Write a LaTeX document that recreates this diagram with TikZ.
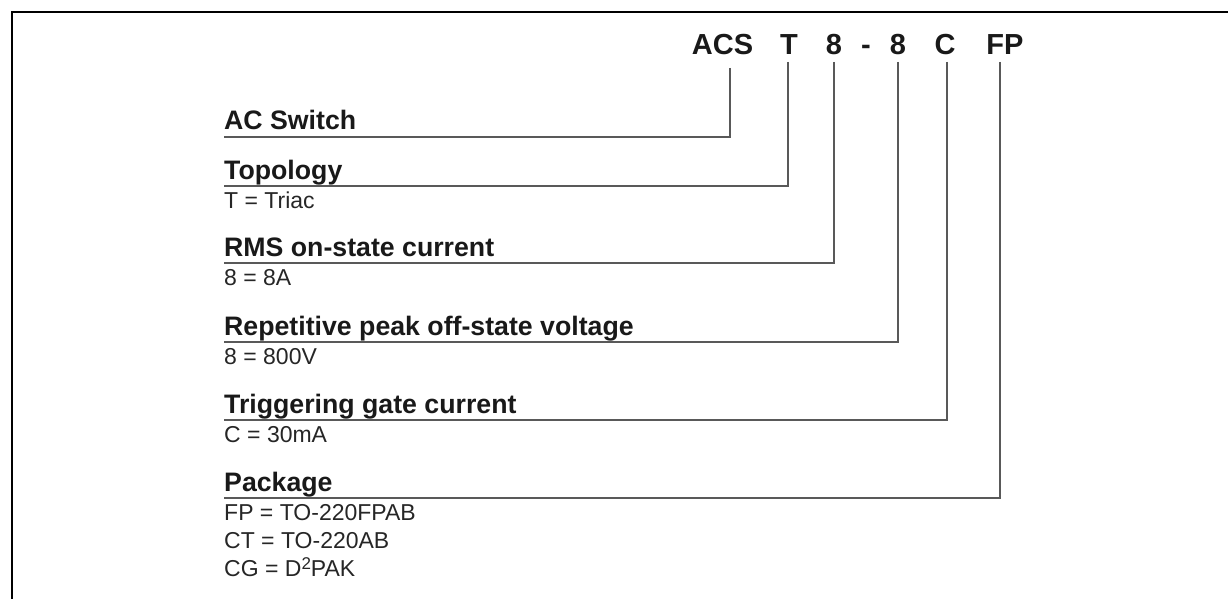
\documentclass[tikz,border=0pt]{standalone}
\usepackage{fontspec}
\setmainfont{Liberation Sans}
\begin{document}
\begin{tikzpicture}[x=1pt,y=-1pt,
  hdr/.style={inner sep=0pt,anchor=base,font=\fontsize{29}{29}\selectfont\bfseries,text=black!90},
  lbl/.style={inner sep=0pt,anchor=base west,font=\fontsize{26.7}{26.7}\selectfont\bfseries,text=black!90},
  val/.style={inner sep=0pt,anchor=base west,font=\fontsize{23}{23}\selectfont,text=black!85},
  conn/.style={draw=black!65,line width=1.6pt},
  frame/.style={draw=black,line width=2.8pt}]
\useasboundingbox (0,0) rectangle (1228,599);
% frame
\coordinate (fbl) at (12,610);
\coordinate (ftl) at (12,12);
\coordinate (ftr) at (1240,12);
\draw[frame] (fbl) -- (ftl) -- (ftr);
% header code
\node[hdr] (hACS) at (722.5,55) {ACS};
\node[hdr] (hT) at (789,55) {T};
\node[hdr] (h8a) at (834,55) {8};
\node[hdr] (hdash) at (866,55) {-};
\node[hdr] (h8b) at (898,55) {8};
\node[hdr] (hC) at (945,55) {C};
\node[hdr] (hFP) at (1005,55) {FP};
% line starts
\coordinate (sACS) at (730,68);
\coordinate (sT) at (788,62);
\coordinate (s8a) at (834,62);
\coordinate (s8b) at (898,62);
\coordinate (sC) at (947,62);
\coordinate (sFP) at (1000,62);
% labels
\node[lbl] (lACS) at (224,130) {AC Switch};
\node[lbl] (lT) at (224,179) {Topology};
\node[val] (vT) at (224,208) {T = Triac};
\node[lbl] (l8a) at (224,256) {RMS on-state current};
\node[val] (v8a) at (224,285) {8 = 8A};
\node[lbl] (l8b) at (224,335) {Repetitive peak off-state voltage};
\node[val] (v8b) at (224,364) {8 = 800V};
\node[lbl] (lC) at (224,413) {Triggering gate current};
\node[val] (vC) at (224,442) {C = 30mA};
\node[lbl] (lFP) at (224,491) {Package};
\node[val] (vFP1) at (224,520) {FP = TO-220FPAB};
\node[val] (vFP2) at (224,548) {CT = TO-220AB};
\node[val] (vFP3) at (224,576) {CG = D\raisebox{0.5ex}{\fontsize{17}{17}\selectfont 2}PAK};
% underline ends
\coordinate (uACS) at (224,137);
\coordinate (uT) at (224,186);
\coordinate (u8a) at (224,263);
\coordinate (u8b) at (224,342);
\coordinate (uC) at (224,420);
\coordinate (uFP) at (224,498);
% connectors
\draw[conn] (sACS) |- (uACS);
\draw[conn] (sT) |- (uT);
\draw[conn] (s8a) |- (u8a);
\draw[conn] (s8b) |- (u8b);
\draw[conn] (sC) |- (uC);
\draw[conn] (sFP) |- (uFP);
\end{tikzpicture}
\end{document}
